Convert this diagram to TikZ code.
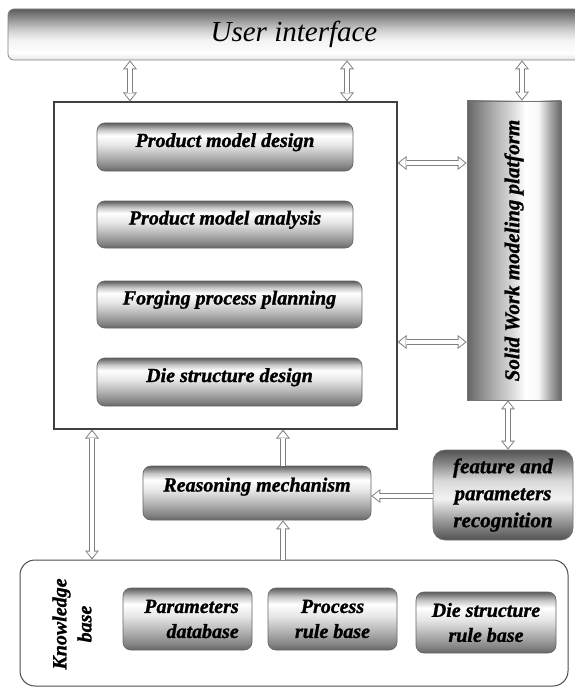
\documentclass[tikz,border=0pt]{standalone}
\usepackage{fontspec}
\setmainfont{Liberation Serif}[BoldItalicFeatures={FakeBold=1.2}]
\usetikzlibrary{arrows.meta}
\pgfdeclareverticalshading{metal}{100bp}{%
  rgb(0bp)=(.4,.4,.4);
  rgb(25bp)=(.4,.4,.4);
  rgb(30bp)=(.52,.52,.52);
  rgb(40bp)=(.7,.7,.7);
  rgb(52bp)=(.9,.9,.9);
  rgb(62bp)=(1,1,1);
  rgb(68bp)=(.78,.78,.78);
  rgb(75bp)=(.36,.36,.36);
  rgb(100bp)=(.36,.36,.36)}
\pgfdeclareverticalshading{darkmetal}{100bp}{%
  rgb(0bp)=(.32,.32,.32);
  rgb(25bp)=(.32,.32,.32);
  rgb(35bp)=(.58,.58,.58);
  rgb(48bp)=(.95,.95,.95);
  rgb(58bp)=(.85,.85,.85);
  rgb(68bp)=(.52,.52,.52);
  rgb(75bp)=(.32,.32,.32);
  rgb(100bp)=(.32,.32,.32)}
\pgfdeclareverticalshading{uibar}{100bp}{%
  rgb(0bp)=(.9,.9,.9);
  rgb(25bp)=(.9,.9,.9);
  rgb(32bp)=(1,1,1);
  rgb(45bp)=(.95,.95,.95);
  rgb(55bp)=(.8,.8,.8);
  rgb(65bp)=(.58,.58,.58);
  rgb(75bp)=(.36,.36,.36);
  rgb(100bp)=(.36,.36,.36)}
\pgfdeclarehorizontalshading{pillar}{100bp}{%
  rgb(0bp)=(.4,.4,.4);
  rgb(25bp)=(.4,.4,.4);
  rgb(31bp)=(.52,.52,.52);
  rgb(40bp)=(.7,.7,.7);
  rgb(50bp)=(.87,.87,.87);
  rgb(56bp)=(1,1,1);
  rgb(63bp)=(.97,.97,.97);
  rgb(70bp)=(.62,.62,.62);
  rgb(75bp)=(.4,.4,.4);
  rgb(100bp)=(.4,.4,.4)}
\tikzset{
  x=1pt, y=-1pt,
  lbl/.style={font=\fontsize{20}{25}\selectfont\bfseries\itshape, text=black},
  mbox/.style={lbl, draw=black!60, line width=0.7pt, rounded corners=8pt, shading=metal, inner sep=0pt},
  upper/.style={text height=14pt, text depth=14pt},
  sarr/.style={draw=black!50, line width=6.2pt, -{Triangle[length=9pt,width=14pt,line width=0pt]},
    postaction={draw=white, line width=4.2pt, -{Triangle[length=6.3pt,width=10.3pt,line width=0pt]}, shorten >=1.7pt}},
  darr/.style={draw=black!50, line width=6.2pt, {Triangle[length=9pt,width=14pt,line width=0pt]}-{Triangle[length=9pt,width=14pt,line width=0pt]},
    postaction={draw=white, line width=4.2pt, {Triangle[length=6.3pt,width=10.3pt,line width=0pt]}-{Triangle[length=6.3pt,width=10.3pt,line width=0pt]}, shorten >=1.7pt, shorten <=1.7pt}},
}
\begin{document}
\begin{tikzpicture}
\useasboundingbox (0,0) rectangle (574,687);
% user interface
\node[draw=black!50, line width=0.7pt, rounded corners=6pt, shading=uibar,
  minimum width=572pt, minimum height=51pt, inner sep=0pt,
  font=\fontsize{29}{30}\selectfont\itshape, text=black] (ui) at (294,34.5) {User interface};
% main box
\node[draw=black!75, line width=1.1pt, fill=white, minimum width=343pt, minimum height=327pt, inner sep=0pt] (main) at (225.5,265.5) {};
\node[mbox, upper, minimum width=256pt, minimum height=48pt] (b1) at (225,147) {Product model design};
\node[mbox, upper, minimum width=256pt, minimum height=47pt] (b2) at (225,224.5) {Product model analysis};
\node[mbox, upper, minimum width=265pt, minimum height=47pt] (b3) at (229.5,304.5) {Forging process planning};
\node[mbox, upper, minimum width=265pt, minimum height=48pt] (b4) at (229.5,382) {Die structure design};
% solid work platform
\node[draw=black!55, line width=0.7pt, shading=pillar, minimum width=94pt, minimum height=299pt, inner sep=0pt] (sw) at (514,250.5) {};
\node[lbl, font=\fontsize{21}{25}\selectfont\bfseries\itshape, rotate=90, inner sep=0pt] (swl) at (sw.center) {Solid Work modeling platform};
% feature recognition
\node[lbl, draw=black!55, line width=0.7pt, rounded corners=12pt, shading=darkmetal, minimum width=140pt, minimum height=90pt, inner sep=0pt, align=center, font=\fontsize{21}{27}\selectfont\bfseries\itshape] (fr) at (503,495) {feature and\\parameters\\recognition};
% reasoning
\node[mbox, text height=14pt, text depth=17pt, minimum width=228pt, minimum height=54pt] (rm) at (257,493) {Reasoning mechanism};
% knowledge base
\node[draw=black!70, line width=1pt, rounded corners=15pt, fill=white, minimum width=548pt, minimum height=126pt, inner sep=0pt] (kb) at (294,623) {};
\node[lbl, rotate=90, align=center, inner sep=0pt] (kbl) at (72,624) {Knowledge\\base};
\node[mbox, minimum width=129pt, minimum height=62pt, align=right] (pd) at (187.5,619) {\hspace*{8pt}Parameters\\database};
\node[mbox, minimum width=129pt, minimum height=62pt, align=center] (pr) at (332.5,619) {Process\\rule base};
\node[mbox, minimum width=140pt, minimum height=61pt, align=center] (dr) at (486,622.5) {Die structure\\rule base};
% connectors
\draw[darr] (130,0 |- ui.south) -- (130,0 |- main.north);
\draw[darr] (347,0 |- ui.south) -- (347,0 |- main.north);
\draw[darr] (522,0 |- ui.south) -- (522,0 |- sw.north);
\draw[darr] (main.east |- 0,163) -- (sw.west |- 0,163);
\draw[darr] (main.east |- 0,342) -- (sw.west |- 0,342);
\draw[darr] (508,0 |- sw.south) -- (508,0 |- fr.north);
\draw[sarr] (fr.west |- 0,496) -- (rm.east |- 0,496);
\draw[sarr] (283,0 |- rm.north) -- (283,0 |- main.south);
\draw[sarr] (283,0 |- kb.north) -- (283,0 |- rm.south);
\draw[darr] (92,0 |- main.south) -- (92,0 |- kb.north);
\end{tikzpicture}
\end{document}
